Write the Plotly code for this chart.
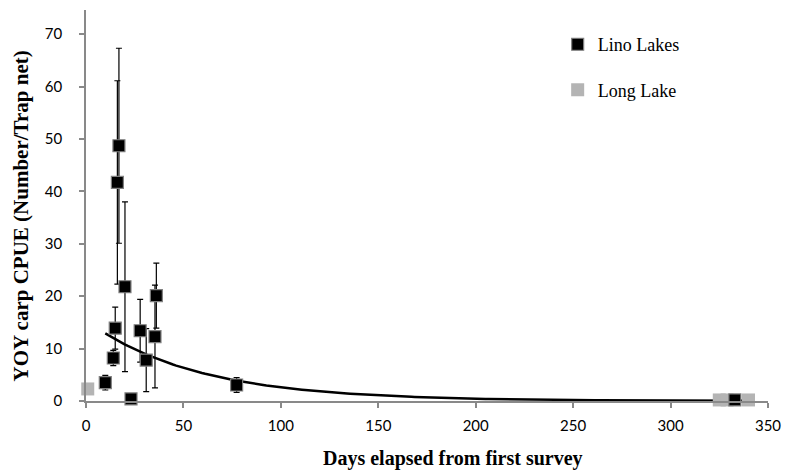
import numpy as np
import plotly.graph_objects as go

# Lino Lakes data
lino_days = [9.9, 14.0, 15.0, 16.1, 16.9, 20.0, 23.1, 27.8, 30.9, 35.4, 36.1, 77.3, 333.0]
lino_cpue = [3.5, 8.2, 13.9, 41.7, 48.7, 21.8, 0.4, 13.4, 7.8, 12.3, 20.1, 3.05, 0.2]
lino_err = [1.4, 1.45, 4.0, 19.4, 18.6, 16.2, 0.0, 6.0, 6.0, 9.8, 6.2, 1.4, 0.0]

# Long Lake data
long_days = [0.9, 325.0, 329.0, 340.0]
long_cpue = [2.3, 0.2, 0.2, 0.2]

# Exponential trend line (Lino Lakes): y = a * exp(-b x)
trend_a = 15.4
trend_b = 0.0178
trend_x_range = [9.9, 339.0]

tx = np.linspace(trend_x_range[0], trend_x_range[1], 200)
ty = trend_a * np.exp(-trend_b * tx)

fig = go.Figure()

fig.add_trace(go.Scatter(
    x=tx, y=ty, mode="lines", line=dict(color="black", width=2.5),
    showlegend=False, hoverinfo="skip", cliponaxis=False))

fig.add_trace(go.Scatter(
    x=long_days, y=long_cpue, mode="markers", name="Long Lake",
    marker=dict(symbol="square", size=13, color="#b4b4b4",
                line=dict(color="#b4b4b4", width=0)),
    cliponaxis=False, legendgroup="b", legendrank=2))

fig.add_trace(go.Scatter(
    x=lino_days, y=lino_cpue, mode="markers", name="Lino Lakes",
    marker=dict(symbol="square", size=12, color="black",
                line=dict(color="#808080", width=1.2)),
    error_y=dict(type="data", array=lino_err, visible=True, color="black",
                 thickness=1.2, width=3),
    cliponaxis=False, legendgroup="a", legendrank=1))

axis_color = "#898989"
tick_font = dict(family="Lato, Open Sans, sans-serif", size=15, color="black")
xtitle_font = dict(family="Liberation Serif, Times New Roman, serif", size=20, color="black")
ytitle_font = dict(family="Liberation Serif, Times New Roman, serif", size=21, color="black")

fig.update_layout(
    width=797, height=471,
    margin=dict(l=86, r=28.5, t=10, b=70),
    paper_bgcolor="white", plot_bgcolor="white",
    showlegend=True,
    legend=dict(x=0.6916, y=0.959, xanchor="left", yanchor="top",
                font=dict(family="Liberation Serif, Times New Roman, serif", size=18, color="black"),
                tracegroupgap=19, itemwidth=30, bgcolor="rgba(0,0,0,0)",
                traceorder="grouped"),
    xaxis=dict(range=[0, 350], tickvals=[0, 50, 100, 150, 200, 250, 300, 350],
               showgrid=False, zeroline=False, showline=True, linecolor=axis_color,
               linewidth=1.5, ticks="outside", ticklen=5, tickcolor=axis_color,
               tickwidth=1.5, tickfont=tick_font, ticklabelstandoff=5),
    yaxis=dict(range=[0, 74.6], tickvals=[0, 10, 20, 30, 40, 50, 60, 70],
               showgrid=False, zeroline=False, showline=True, linecolor=axis_color,
               linewidth=1.5, ticks="outside", ticklen=5, tickcolor=axis_color,
               tickwidth=1.5, tickfont=tick_font, ticklabelstandoff=14),
    annotations=[
        dict(text="<b>Days elapsed from first survey</b>", xref="paper", yref="paper",
             x=0.538, y=-0.148, xanchor="center", yanchor="middle", showarrow=False,
             font=xtitle_font),
        dict(text="<b>YOY carp CPUE (Number/Trap net)</b>", xref="paper", yref="paper",
             x=-0.0952, y=0.472, xanchor="center", yanchor="middle", showarrow=False,
             textangle=-90, font=ytitle_font),
    ],
)

fig.write_html("out.html")
